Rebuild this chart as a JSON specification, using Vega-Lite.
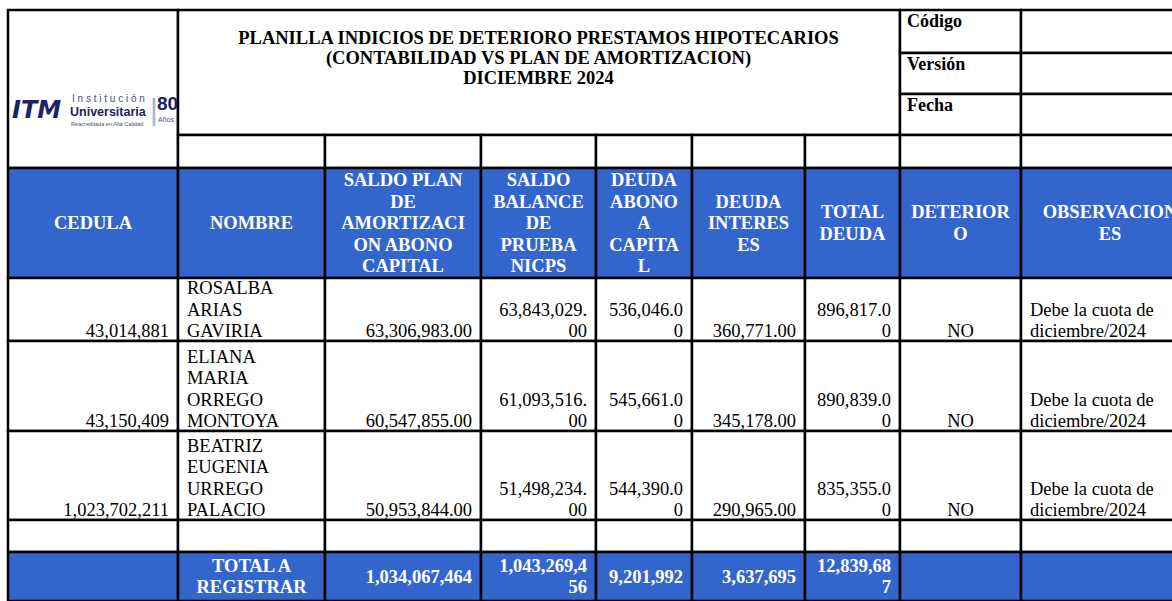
{
  "$schema": "https://vega.github.io/schema/vega-lite/v6.json",
  "width": 1172,
  "height": 601,
  "autosize": {"type": "none"},
  "padding": 0,
  "background": "white",
  "config": {"view": {"stroke": null}, "text": {"lineBreak": "\n"}},
  "datasets": {
    "cells": [
      {"c0":0,"c1":1,"r0":0,"r1":4,"band":"body"},
      {"c0":1,"c1":7,"r0":0,"r1":3,"band":"body"},
      {"c0":7,"c1":8,"r0":0,"r1":1,"band":"body"},{"c0":8,"c1":9,"r0":0,"r1":1,"band":"body"},
      {"c0":7,"c1":8,"r0":1,"r1":2,"band":"body"},{"c0":8,"c1":9,"r0":1,"r1":2,"band":"body"},
      {"c0":7,"c1":8,"r0":2,"r1":3,"band":"body"},{"c0":8,"c1":9,"r0":2,"r1":3,"band":"body"},
      {"c0":1,"c1":2,"r0":3,"r1":4,"band":"body"},{"c0":2,"c1":3,"r0":3,"r1":4,"band":"body"},{"c0":3,"c1":4,"r0":3,"r1":4,"band":"body"},{"c0":4,"c1":5,"r0":3,"r1":4,"band":"body"},{"c0":5,"c1":6,"r0":3,"r1":4,"band":"body"},{"c0":6,"c1":7,"r0":3,"r1":4,"band":"body"},{"c0":7,"c1":8,"r0":3,"r1":4,"band":"body"},{"c0":8,"c1":9,"r0":3,"r1":4,"band":"body"},
      {"c0":0,"c1":1,"r0":4,"r1":5,"band":"head"},{"c0":1,"c1":2,"r0":4,"r1":5,"band":"head"},{"c0":2,"c1":3,"r0":4,"r1":5,"band":"head"},{"c0":3,"c1":4,"r0":4,"r1":5,"band":"head"},{"c0":4,"c1":5,"r0":4,"r1":5,"band":"head"},{"c0":5,"c1":6,"r0":4,"r1":5,"band":"head"},{"c0":6,"c1":7,"r0":4,"r1":5,"band":"head"},{"c0":7,"c1":8,"r0":4,"r1":5,"band":"head"},{"c0":8,"c1":9,"r0":4,"r1":5,"band":"head"},
      {"c0":0,"c1":1,"r0":5,"r1":6,"band":"body"},{"c0":1,"c1":2,"r0":5,"r1":6,"band":"body"},{"c0":2,"c1":3,"r0":5,"r1":6,"band":"body"},{"c0":3,"c1":4,"r0":5,"r1":6,"band":"body"},{"c0":4,"c1":5,"r0":5,"r1":6,"band":"body"},{"c0":5,"c1":6,"r0":5,"r1":6,"band":"body"},{"c0":6,"c1":7,"r0":5,"r1":6,"band":"body"},{"c0":7,"c1":8,"r0":5,"r1":6,"band":"body"},{"c0":8,"c1":9,"r0":5,"r1":6,"band":"body"},
      {"c0":0,"c1":1,"r0":6,"r1":7,"band":"body"},{"c0":1,"c1":2,"r0":6,"r1":7,"band":"body"},{"c0":2,"c1":3,"r0":6,"r1":7,"band":"body"},{"c0":3,"c1":4,"r0":6,"r1":7,"band":"body"},{"c0":4,"c1":5,"r0":6,"r1":7,"band":"body"},{"c0":5,"c1":6,"r0":6,"r1":7,"band":"body"},{"c0":6,"c1":7,"r0":6,"r1":7,"band":"body"},{"c0":7,"c1":8,"r0":6,"r1":7,"band":"body"},{"c0":8,"c1":9,"r0":6,"r1":7,"band":"body"},
      {"c0":0,"c1":1,"r0":7,"r1":8,"band":"body"},{"c0":1,"c1":2,"r0":7,"r1":8,"band":"body"},{"c0":2,"c1":3,"r0":7,"r1":8,"band":"body"},{"c0":3,"c1":4,"r0":7,"r1":8,"band":"body"},{"c0":4,"c1":5,"r0":7,"r1":8,"band":"body"},{"c0":5,"c1":6,"r0":7,"r1":8,"band":"body"},{"c0":6,"c1":7,"r0":7,"r1":8,"band":"body"},{"c0":7,"c1":8,"r0":7,"r1":8,"band":"body"},{"c0":8,"c1":9,"r0":7,"r1":8,"band":"body"},
      {"c0":0,"c1":1,"r0":8,"r1":9,"band":"body"},{"c0":1,"c1":2,"r0":8,"r1":9,"band":"body"},{"c0":2,"c1":3,"r0":8,"r1":9,"band":"body"},{"c0":3,"c1":4,"r0":8,"r1":9,"band":"body"},{"c0":4,"c1":5,"r0":8,"r1":9,"band":"body"},{"c0":5,"c1":6,"r0":8,"r1":9,"band":"body"},{"c0":6,"c1":7,"r0":8,"r1":9,"band":"body"},{"c0":7,"c1":8,"r0":8,"r1":9,"band":"body"},{"c0":8,"c1":9,"r0":8,"r1":9,"band":"body"},
      {"c0":0,"c1":1,"r0":9,"r1":10,"band":"head"},{"c0":1,"c1":2,"r0":9,"r1":10,"band":"head"},{"c0":2,"c1":3,"r0":9,"r1":10,"band":"head"},{"c0":3,"c1":4,"r0":9,"r1":10,"band":"head"},{"c0":4,"c1":5,"r0":9,"r1":10,"band":"head"},{"c0":5,"c1":6,"r0":9,"r1":10,"band":"head"},{"c0":6,"c1":7,"r0":9,"r1":10,"band":"head"},{"c0":7,"c1":8,"r0":9,"r1":10,"band":"head"},{"c0":8,"c1":9,"r0":9,"r1":10,"band":"head"}
    ],
    "texts": [
      {"col":3,"row":0,"kind":"title","text":"PLANILLA INDICIOS DE DETERIORO PRESTAMOS HIPOTECARIOS\n(CONTABILIDAD VS PLAN DE AMORTIZACION)\nDICIEMBRE 2024"},
      {"col":7,"row":0,"kind":"label","text":"Código"},
      {"col":7,"row":1,"kind":"label","text":"Versión"},
      {"col":7,"row":2,"kind":"label","text":"Fecha"},
      {"col":0,"row":4,"kind":"head","text":"CEDULA"},
      {"col":1,"row":4,"kind":"head","text":"NOMBRE"},
      {"col":2,"row":4,"kind":"head","text":"SALDO PLAN\nDE\nAMORTIZACI\nON ABONO\nCAPITAL"},
      {"col":3,"row":4,"kind":"head","text":"SALDO\nBALANCE\nDE\nPRUEBA\nNICPS"},
      {"col":4,"row":4,"kind":"head","text":"DEUDA\nABONO\nA\nCAPITA\nL"},
      {"col":5,"row":4,"kind":"head","text":"DEUDA\nINTERES\nES"},
      {"col":6,"row":4,"kind":"head","text":"TOTAL\nDEUDA"},
      {"col":7,"row":4,"kind":"head","text":"DETERIOR\nO"},
      {"col":8,"row":4,"kind":"head","text":"OBSERVACION\nES"},
      {"col":0,"row":5,"kind":"num","text":"43,014,881"},
      {"col":1,"row":5,"kind":"left","text":"ROSALBA\nARIAS\nGAVIRIA"},
      {"col":2,"row":5,"kind":"num","text":"63,306,983.00"},
      {"col":3,"row":5,"kind":"num","text":"63,843,029.\n00"},
      {"col":4,"row":5,"kind":"num","text":"536,046.0\n0"},
      {"col":5,"row":5,"kind":"num","text":"360,771.00"},
      {"col":6,"row":5,"kind":"num","text":"896,817.0\n0"},
      {"col":7,"row":5,"kind":"center","text":"NO"},
      {"col":8,"row":5,"kind":"left","text":"Debe la cuota de\ndiciembre/2024"},
      {"col":0,"row":6,"kind":"num","text":"43,150,409"},
      {"col":1,"row":6,"kind":"left","text":"ELIANA\nMARIA\nORREGO\nMONTOYA"},
      {"col":2,"row":6,"kind":"num","text":"60,547,855.00"},
      {"col":3,"row":6,"kind":"num","text":"61,093,516.\n00"},
      {"col":4,"row":6,"kind":"num","text":"545,661.0\n0"},
      {"col":5,"row":6,"kind":"num","text":"345,178.00"},
      {"col":6,"row":6,"kind":"num","text":"890,839.0\n0"},
      {"col":7,"row":6,"kind":"center","text":"NO"},
      {"col":8,"row":6,"kind":"left","text":"Debe la cuota de\ndiciembre/2024"},
      {"col":0,"row":7,"kind":"num","text":"1,023,702,211"},
      {"col":1,"row":7,"kind":"left","text":"BEATRIZ\nEUGENIA\nURREGO\nPALACIO"},
      {"col":2,"row":7,"kind":"num","text":"50,953,844.00"},
      {"col":3,"row":7,"kind":"num","text":"51,498,234.\n00"},
      {"col":4,"row":7,"kind":"num","text":"544,390.0\n0"},
      {"col":5,"row":7,"kind":"num","text":"290,965.00"},
      {"col":6,"row":7,"kind":"num","text":"835,355.0\n0"},
      {"col":7,"row":7,"kind":"center","text":"NO"},
      {"col":8,"row":7,"kind":"left","text":"Debe la cuota de\ndiciembre/2024"},
      {"col":1,"row":9,"kind":"totlabel","text":"TOTAL A\nREGISTRAR"},
      {"col":2,"row":9,"kind":"totnum","text":"1,034,067,464"},
      {"col":3,"row":9,"kind":"totnum","text":"1,043,269,4\n56"},
      {"col":4,"row":9,"kind":"totnum","text":"9,201,992"},
      {"col":5,"row":9,"kind":"totnum","text":"3,637,695"},
      {"col":6,"row":9,"kind":"totnum","text":"12,839,68\n7"}
    ],
    "logo": [
      {"part":"itm","text":"ITM","col":0,"row":3},
      {"part":"inst","text":"I n s t i t u c i ó n","col":0,"row":3},
      {"part":"univ","text":"Universitaria","col":0,"row":3},
      {"part":"reac","text":"Reacreditada en Alta Calidad","col":0,"row":3},
      {"part":"sep","text":"|","col":0,"row":3},
      {"part":"ochenta","text":"80","col":0,"row":3},
      {"part":"anos","text":"Años","col":0,"row":3}
    ]
  },
  "layer": [
    {
      "data": {"name": "cells"},
      "mark": {"type": "rect", "stroke": "#000000", "strokeWidth": 2.5, "clip": true},
      "encoding": {
        "x": {"field": "c0", "type": "quantitative", "axis": null, "scale": {"domain": [0,1,2,3,4,5,6,7,8,9], "range": [8,178,325,481,596,692,805,900,1021,1199], "nice": false, "zero": false}},
        "x2": {"field": "c1"},
        "y": {"field": "r0", "type": "quantitative", "axis": null, "scale": {"domain": [0,1,2,3,4,5,6,7,8,9,10], "range": [10,53,94,135,168,278,341,431,520,552,601], "nice": false, "zero": false}},
        "y2": {"field": "r1"},
        "fill": {"field": "band", "type": "nominal", "legend": null, "scale": {"domain": ["head","body"], "range": ["#3366CC","#FFFFFF"]}}
      }
    },
    {
      "data": {"name": "texts"},
      "transform": [
        {"calculate": "datum.col + 0.5", "as": "cmid"},
        {"calculate": "datum.col + 1", "as": "cend"},
        {"calculate": "datum.row + 0.5", "as": "rmid"},
        {"calculate": "datum.row + 1", "as": "rend"}
      ],
      "layer": [
        {
          "transform": [{"filter": "datum.kind === 'title'"}],
          "mark": {"type": "text", "font": "Liberation Serif", "fontSize": 18.5, "fontWeight": "bold", "align": "center", "baseline": "middle", "lineHeight": 20, "dy": 27.5, "color": "#000000"},
          "encoding": {"x": {"field": "cmid", "type": "quantitative"}, "y": {"field": "row", "type": "quantitative"}, "text": {"field": "text"}}
        },
        {
          "transform": [{"filter": "datum.kind === 'label'"}],
          "mark": {"type": "text", "font": "Liberation Serif", "fontSize": 18, "fontWeight": "bold", "align": "left", "baseline": "top", "dx": 7, "dy": 3, "color": "#000000"},
          "encoding": {"x": {"field": "col", "type": "quantitative"}, "y": {"field": "row", "type": "quantitative"}, "text": {"field": "text"}}
        },
        {
          "transform": [{"filter": "datum.kind === 'head'"}],
          "mark": {"type": "text", "font": "Liberation Serif", "fontSize": 18.5, "fontWeight": "bold", "align": "center", "baseline": "middle", "lineHeight": 21.5, "dy": {"expr": "-21.5 * (length(split(datum.text, '\\n')) - 1) / 2"}, "color": "#FFFFFF", "clip": true},
          "encoding": {"x": {"field": "cmid", "type": "quantitative"}, "y": {"field": "rmid", "type": "quantitative"}, "text": {"field": "text"}}
        },
        {
          "transform": [{"filter": "datum.kind === 'num'"}],
          "mark": {"type": "text", "font": "Liberation Serif", "fontSize": 18.5, "align": "right", "baseline": "bottom", "lineHeight": 21.3, "dx": -9, "dy": {"expr": "0 - 21.3 * (length(split(datum.text, '\\n')) - 1)"}, "color": "#000000"},
          "encoding": {"x": {"field": "cend", "type": "quantitative"}, "y": {"field": "rend", "type": "quantitative"}, "text": {"field": "text"}}
        },
        {
          "transform": [{"filter": "datum.kind === 'left'"}],
          "mark": {"type": "text", "font": "Liberation Serif", "fontSize": 18.5, "align": "left", "baseline": "bottom", "lineHeight": 21.3, "dx": 9, "dy": {"expr": "0 - 21.3 * (length(split(datum.text, '\\n')) - 1)"}, "color": "#000000"},
          "encoding": {"x": {"field": "col", "type": "quantitative"}, "y": {"field": "rend", "type": "quantitative"}, "text": {"field": "text"}}
        },
        {
          "transform": [{"filter": "datum.kind === 'center'"}],
          "mark": {"type": "text", "font": "Liberation Serif", "fontSize": 18.5, "align": "center", "baseline": "bottom", "lineHeight": 21.3, "dy": 0, "color": "#000000"},
          "encoding": {"x": {"field": "cmid", "type": "quantitative"}, "y": {"field": "rend", "type": "quantitative"}, "text": {"field": "text"}}
        },
        {
          "transform": [{"filter": "datum.kind === 'totlabel'"}],
          "mark": {"type": "text", "font": "Liberation Serif", "fontSize": 18.5, "fontWeight": "bold", "align": "center", "baseline": "middle", "lineHeight": 21.5, "dy": {"expr": "-21.5 * (length(split(datum.text, '\\n')) - 1) / 2"}, "color": "#FFFFFF"},
          "encoding": {"x": {"field": "cmid", "type": "quantitative"}, "y": {"field": "rmid", "type": "quantitative"}, "text": {"field": "text"}}
        },
        {
          "transform": [{"filter": "datum.kind === 'totnum'"}],
          "mark": {"type": "text", "font": "Liberation Serif", "fontSize": 18.5, "fontWeight": "bold", "align": "right", "baseline": "middle", "lineHeight": 21.5, "dx": -9, "dy": {"expr": "-21.5 * (length(split(datum.text, '\\n')) - 1) / 2"}, "color": "#FFFFFF"},
          "encoding": {"x": {"field": "cend", "type": "quantitative"}, "y": {"field": "rmid", "type": "quantitative"}, "text": {"field": "text"}}
        }
      ]
    },
    {
      "data": {"name": "logo"},
      "layer": [
        {
          "transform": [{"filter": "datum.part === 'itm'"}],
          "mark": {"type": "text", "font": "DejaVu Sans", "fontSize": 24, "fontWeight": "bold", "fontStyle": "italic", "align": "left", "baseline": "middle", "dx": 4, "dy": -24, "color": "#1C2263"},
          "encoding": {"x": {"field": "col", "type": "quantitative"}, "y": {"field": "row", "type": "quantitative"}, "text": {"field": "text"}}
        },
        {
          "transform": [{"filter": "datum.part === 'inst'"}],
          "mark": {"type": "text", "font": "Liberation Sans", "fontSize": 10, "align": "left", "baseline": "middle", "dx": 64, "dy": -36, "color": "#4A4F7A"},
          "encoding": {"x": {"field": "col", "type": "quantitative"}, "y": {"field": "row", "type": "quantitative"}, "text": {"field": "text"}}
        },
        {
          "transform": [{"filter": "datum.part === 'univ'"}],
          "mark": {"type": "text", "font": "Liberation Sans", "fontSize": 12.5, "fontWeight": "bold", "align": "left", "baseline": "middle", "dx": 62, "dy": -23, "color": "#1C2263"},
          "encoding": {"x": {"field": "col", "type": "quantitative"}, "y": {"field": "row", "type": "quantitative"}, "text": {"field": "text"}}
        },
        {
          "transform": [{"filter": "datum.part === 'reac'"}],
          "mark": {"type": "text", "font": "Liberation Sans", "fontSize": 5.6, "align": "left", "baseline": "middle", "dx": 63, "dy": -11, "color": "#4A4F7A"},
          "encoding": {"x": {"field": "col", "type": "quantitative"}, "y": {"field": "row", "type": "quantitative"}, "text": {"field": "text"}}
        },
        {
          "transform": [{"filter": "datum.part === 'sep'"}],
          "mark": {"type": "text", "font": "Liberation Sans", "fontSize": 30, "align": "center", "baseline": "middle", "dx": 146, "dy": -24, "color": "#B0B2C8"},
          "encoding": {"x": {"field": "col", "type": "quantitative"}, "y": {"field": "row", "type": "quantitative"}, "text": {"field": "text"}}
        },
        {
          "transform": [{"filter": "datum.part === 'ochenta'"}],
          "mark": {"type": "text", "font": "Liberation Sans", "fontSize": 19, "fontWeight": "bold", "align": "left", "baseline": "middle", "dx": 149, "dy": -31, "color": "#1C2263"},
          "encoding": {"x": {"field": "col", "type": "quantitative"}, "y": {"field": "row", "type": "quantitative"}, "text": {"field": "text"}}
        },
        {
          "transform": [{"filter": "datum.part === 'anos'"}],
          "mark": {"type": "text", "font": "Liberation Sans", "fontSize": 7, "align": "left", "baseline": "middle", "dx": 150, "dy": -15, "color": "#4A4F7A"},
          "encoding": {"x": {"field": "col", "type": "quantitative"}, "y": {"field": "row", "type": "quantitative"}, "text": {"field": "text"}}
        }
      ]
    }
  ]
}
